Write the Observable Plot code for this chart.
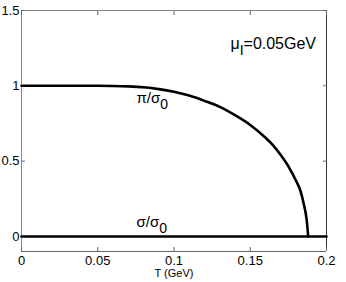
<!DOCTYPE html>
<html>
<head>
<meta charset="utf-8">
<script src="https://cdn.jsdelivr.net/npm/d3@7"></script>
<script src="https://cdn.jsdelivr.net/npm/@observablehq/plot@0.6"></script>
<style>
  html, body { margin: 0; padding: 0; background: white; }
</style>
</head>
<body>
<div id="chart"></div>
<script>
// Temperature (GeV) and normalized condensates
const T = [0, 0.02, 0.04, 0.05, 0.06, 0.07, 0.08, 0.09, 0.1, 0.11, 0.12, 0.13, 0.14, 0.15, 0.16, 0.165, 0.17, 0.175, 0.18, 0.183, 0.185, 0.187, 0.188];
const piRatio = [1, 1, 1, 1, 0.999, 0.996, 0.99, 0.978, 0.96, 0.935, 0.9, 0.86, 0.805, 0.74, 0.655, 0.605, 0.54, 0.465, 0.37, 0.3, 0.22, 0.11, 0];
const sigmaT = [0, 0.2];
const sigmaRatio = [0, 0];

const xTicks = [0, 0.05, 0.1, 0.15, 0.2];
const xTickLabels = ["0", "0.05", "0.1", "0.15", "0.2"];
const yTicks = [0, 0.5, 1, 1.5];
const yTickLabels = ["0", "0.5", "1", "1.5"];

const xLabel = "T (GeV)";
// curve labels: main text, subscript, trailing text, anchor position, size
const labelMain = ["π/σ", "σ/σ", "μ"];
const labelSub = ["0", "0", "I"];
const labelRest = ["", "", "=0.05GeV"];
const labelT = [0.0754, 0.0754, 0.137];
const labelV = [0.915, 0.093, 1.278];
const labelSize = [15, 15, 16];

const piData = T.map((t, i) => ({t, v: piRatio[i]}));
const sigmaData = sigmaT.map((t, i) => ({t, v: sigmaRatio[i]}));
const labels = labelMain.map((m, i) => ({m, t: labelT[i], v: labelV[i], s: labelSize[i]}));

const font = "'Liberation Sans', Arial, Helvetica, sans-serif";

const chart = Plot.plot({
  width: 346,
  height: 282,
  marginLeft: 21,
  marginRight: 20,
  marginTop: 10,
  marginBottom: 31,
  style: {fontFamily: font, fontSize: "13px", background: "white", color: "black"},
  x: {domain: [0, 0.2]},
  y: {domain: [-0.1, 1.5]},
  marks: [
    Plot.ruleX([0], {stroke: "#888", strokeWidth: 1}),
    Plot.ruleX([0.2], {stroke: "#333", strokeWidth: 1}),
    Plot.ruleY([1.5], {stroke: "#888", strokeWidth: 1}),
    Plot.ruleY([-0.1], {stroke: "#666", strokeWidth: 1}),
    Plot.axisX(xTicks, {anchor: "bottom", tickSize: -4, tickPadding: 8, stroke: "#666",
      tickFormat: d => xTickLabels[xTicks.indexOf(d)], label: null, fontSize: 13}),
    Plot.axisX(xTicks, {anchor: "top", tickSize: -4, stroke: "#666", tickFormat: () => "", label: null}),
    Plot.axisY(yTicks, {anchor: "left", tickSize: -4, tickPadding: 6, stroke: "#666",
      tickFormat: d => yTickLabels[yTicks.indexOf(d)], label: null, fontSize: 13}),
    Plot.axisY(yTicks, {anchor: "right", tickSize: -4, stroke: "#666", tickFormat: () => "", label: null}),
    Plot.line(sigmaData, {x: "t", y: "v", stroke: "black", strokeWidth: 2.6}),
    Plot.line(piData, {x: "t", y: "v", stroke: "black", strokeWidth: 2.6, curve: "monotone-x"}),
    Plot.text(labels, {x: "t", y: "v", text: "m", textAnchor: "start", lineAnchor: "middle", fontSize: "s", fill: "black"}),
    Plot.text([xLabel], {frameAnchor: "bottom", dy: 22, fontSize: 11, fill: "black", lineAnchor: "middle"})
  ]
});

// add subscripts with tspans
d3.select(chart).selectAll("g[aria-label='text'] text").each(function() {
  const el = d3.select(this);
  const txt = el.text();
  const i = labelMain.indexOf(txt);
  if (i < 0) return;
  el.text(null);
  el.append("tspan").text(labelMain[i]);
  el.append("tspan").attr("dy", 6).attr("font-size", 14).text(labelSub[i]);
  if (labelRest[i]) el.append("tspan").attr("dy", -6).text(labelRest[i]);
});

document.getElementById("chart").appendChild(chart);
</script>
</body>
</html>
